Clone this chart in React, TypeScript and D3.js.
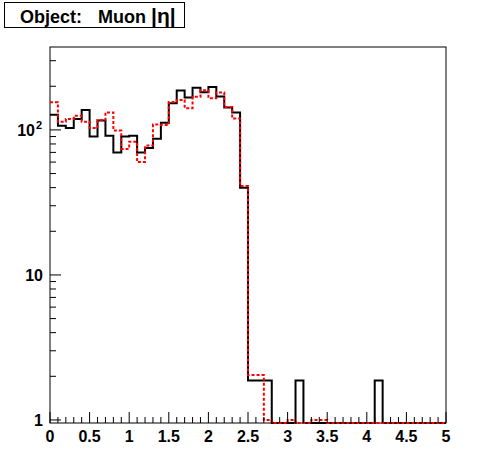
import * as d3 from 'd3';

// |eta| histogram, 50 bins of width 0.1 from 0 to 5
const binWidth = 0.1;
const blackCounts = [
  127, 107, 103, 119, 137, 90, 116, 91, 70, 90,
  91, 70, 75, 87, 112, 153, 187, 167, 195, 182,
  198, 170, 143, 132, 40, 1.87, 1.87, 1.87, 0, 0,
  0, 1.87, 0, 0, 0, 0, 0, 0, 0, 0,
  0, 1.87, 0, 0, 0, 0, 0, 0, 0, 0,
];
const redCounts = [
  155, 114, 119, 125, 114, 103, 117, 132, 99, 74,
  83, 60, 78, 109, 108, 156, 161, 141, 169, 188,
  165, 181, 144, 120, 41, 2.04, 2.04, 1, 0, 0,
  1, 0, 0, 1, 1, 0, 0, 0, 0, 0,
  0, 0, 0, 0, 0, 0, 0, 0, 0, 0,
];
const xTicks = [0, 0.5, 1, 1.5, 2, 2.5, 3, 3.5, 4, 4.5, 5];
const titleParts = ['Object:', 'Muon', '|η|'];

const width = 496;
const height = 472;
const frame = { left: 50, right: 446, top: 47, bottom: 423 };

function App() {
  const x = d3.scaleLinear().domain([0, 5]).range([frame.left, frame.right]);
  const y = d3.scaleLog().domain([0.953, 373]).range([frame.bottom, frame.top]);
  const yMin = y.domain()[0];

  const histPath = (counts: number[]) => {
    const pts: [number, number][] = counts.map((c, i) => [i * binWidth, c]);
    pts.push([counts.length * binWidth, counts[counts.length - 1]]);
    return d3.line<[number, number]>()
      .x(d => x(d[0]))
      .y(d => y(Math.max(d[1], yMin)))
      .curve(d3.curveStepAfter)(pts) as string;
  };

  const xMinor = d3.range(0, 51).map(i => i / 10);
  const yMinor: number[] = [];
  [1, 10, 100].forEach(dec => {
    for (let k = 1; k <= 9; k++) {
      const v = dec * k;
      if (v >= yMin && v <= y.domain()[1]) yMinor.push(v);
    }
  });

  const font = "'Liberation Sans', Arial, Helvetica, sans-serif";

  return (
    <svg width={width} height={height} style={{ position: 'absolute', left: 0, top: 0 }}>
      <rect x={0} y={0} width={width} height={height} fill="#fff" />

      {/* frame */}
      <rect x={frame.left} y={frame.top} width={frame.right - frame.left}
        height={frame.bottom - frame.top} fill="none" stroke="#000" strokeWidth={1} />

      {/* histograms */}
      <path d={histPath(blackCounts)} fill="none" stroke="#000" strokeWidth={2} />
      <path d={histPath(redCounts)} fill="none" stroke="#ff0000" strokeWidth={2}
        strokeDasharray="3,2" />

      {/* x axis ticks */}
      {xMinor.map((v, i) => (
        <line key={'xt' + i} x1={x(v)} x2={x(v)} y1={frame.bottom}
          y2={frame.bottom - (i % 5 === 0 ? 11 : 6)} stroke="#000" strokeWidth={1} />
      ))}
      {xTicks.map(v => (
        <text key={'xl' + v} x={x(v)} y={442} textAnchor="middle"
          fontFamily={font} fontWeight="bold" fontSize={16}>{v}</text>
      ))}

      {/* y axis ticks */}
      {yMinor.map((v, i) => {
        const major = v === 1 || v === 10 || v === 100;
        return (
          <line key={'yt' + i} x1={frame.left} x2={frame.left + (major ? 11 : 6)}
            y1={y(v)} y2={y(v)} stroke="#000" strokeWidth={1} />
        );
      })}
      <text x={43} y={y(1) + 6} textAnchor="end" fontFamily={font} fontWeight="bold" fontSize={16}>1</text>
      <text x={43} y={y(10) + 6} textAnchor="end" fontFamily={font} fontWeight="bold" fontSize={16}>10</text>
      <text x={35} y={y(100) + 6} textAnchor="end" fontFamily={font} fontWeight="bold" fontSize={16}>10</text>
      <text x={36} y={y(100) - 1} fontFamily={font} fontWeight="bold" fontSize={11}>2</text>

      {/* title box */}
      <rect x={4.5} y={2.5} width={180} height={25} fill="#fff" stroke="#000" strokeWidth={1} />
      <text y={22.5} fontFamily={font} fontWeight="bold" fontSize={18}>
        <tspan x={20}>{titleParts[0]}</tspan>
        <tspan x={98}>{titleParts[1]}</tspan>
        <tspan x={151} fontSize={21}>{titleParts[2]}</tspan>
      </text>
    </svg>
  );
}

export default App;
